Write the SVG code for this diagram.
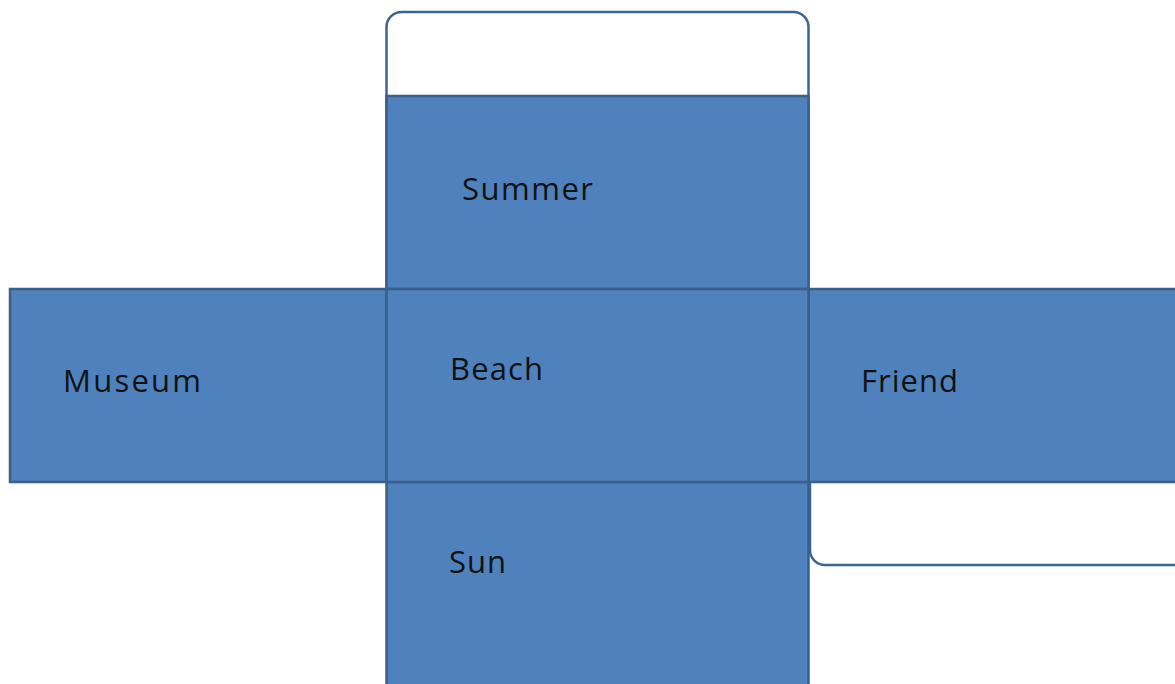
<svg xmlns="http://www.w3.org/2000/svg" width="1175" height="684" viewBox="0 0 1175 684">
  <style>
    .tab { fill: #ffffff; stroke: #3d6491; stroke-width: 2.5; }
    .face { fill: #4f81bd; stroke: #3a5f8b; stroke-width: 2.5; }
    .label { font-family: "Open Sans", "Liberation Sans", sans-serif; font-size: 31px; fill: #111111; }
  </style>
  <rect width="1175" height="684" fill="#ffffff"/>
  <!-- glue tabs behind the faces -->
  <g id="tab-top">
    <rect class="tab" x="386.5" y="12" width="422" height="300" rx="15"/>
  </g>
  <g id="tab-right">
    <rect class="tab" x="810" y="320" width="420" height="245" rx="15"/>
  </g>
  <g id="summer">
    <rect class="face" x="386.5" y="96" width="422" height="193"/>
    <text class="label" x="462" y="200" textLength="131" lengthAdjust="spacing">Summer</text>
  </g>
  <g id="museum">
    <rect class="face" x="10" y="289" width="376.5" height="193"/>
    <text class="label" x="63" y="392" textLength="138" lengthAdjust="spacing">Museum</text>
  </g>
  <g id="friend">
    <rect class="face" x="808.5" y="289" width="380" height="193"/>
    <text class="label" x="861" y="392" textLength="97" lengthAdjust="spacing">Friend</text>
  </g>
  <g id="sun">
    <rect class="face" x="386.5" y="482" width="422" height="215"/>
    <text class="label" x="449" y="573" textLength="57" lengthAdjust="spacing">Sun</text>
  </g>
  <g id="beach">
    <rect class="face" x="386.5" y="289" width="422" height="193"/>
    <text class="label" x="450" y="380" textLength="93" lengthAdjust="spacing">Beach</text>
  </g>
  <g id="connectors"></g>
</svg>
